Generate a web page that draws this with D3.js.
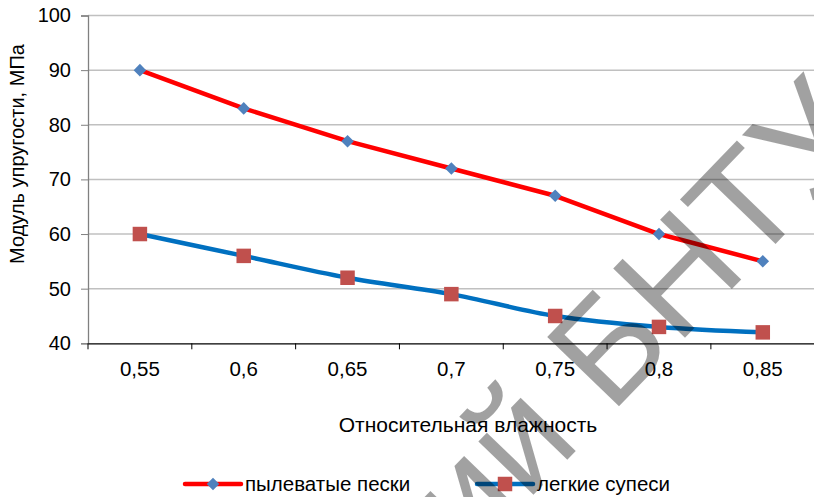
<!DOCTYPE html>
<html>
<head>
<meta charset="utf-8">
<script src="https://cdn.jsdelivr.net/npm/d3@7"></script>
<style>
  html, body { margin: 0; padding: 0; background: #fff; }
  svg { display: block; font-family: Arial, "Liberation Sans", sans-serif; }
</style>
</head>
<body>
<svg id="chart" width="814" height="497"></svg>
<script>
// Relative humidity categories (x axis)
const categories = ["0,55", "0,6", "0,65", "0,7", "0,75", "0,8", "0,85"];
// Modulus of elasticity, MPa
const siltySands = [90, 83, 77, 72, 67, 60, 55];   // пылеватые пески
const lightLoams = [60, 56, 52, 49, 45, 43, 42];   // легкие супеси
const yTicks = [40, 50, 60, 70, 80, 90, 100];

const seriesNames = ["пылеватые пески", "легкие супеси"];

const W = 814, H = 497;
const plot = { left: 88, right: 814.7, top: 15.5, bottom: 343.3 };
const FONT = "Arial, Liberation Sans, sans-serif";

const svg = d3.select("#chart");

const x = d3.scaleBand().domain(categories).range([plot.left, plot.right]).padding(0);
const y = d3.scaleLinear().domain([40, 100]).range([plot.bottom, plot.top]);
const cx = c => x(c) + x.bandwidth() / 2;

// horizontal gridlines
svg.append("g")
  .selectAll("line")
  .data(yTicks.filter(v => v > 40))
  .join("line")
  .attr("x1", plot.left).attr("x2", W)
  .attr("y1", d => y(d)).attr("y2", d => y(d))
  .attr("stroke", "#c0c0c0").attr("stroke-width", 1.5);

// y axis
const yAxis = svg.append("g")
  .attr("transform", `translate(${plot.left},0)`)
  .call(d3.axisLeft(y).tickValues(yTicks).tickSize(7).tickPadding(10).tickFormat(d3.format("d")));
yAxis.select(".domain").attr("stroke", "#808080").attr("stroke-width", 1.3);
yAxis.selectAll(".tick line").attr("stroke", "#808080");
yAxis.selectAll("text").attr("font-size", 20).attr("fill", "#000").attr("font-family", FONT);

// x axis with ticks at category boundaries
const xAxis = svg.append("g")
  .attr("transform", `translate(0,${plot.bottom})`)
  .call(d3.axisBottom(x).tickSize(0).tickPadding(18));
xAxis.select(".domain").attr("stroke", "#000").attr("stroke-width", 1.2);
xAxis.selectAll("text").attr("font-size", 20.5).attr("fill", "#000").attr("font-family", FONT);
xAxis.selectAll("line.boundary")
  .data(categories)
  .join("line")
  .attr("class", "boundary")
  .attr("x1", d => x(d)).attr("x2", d => x(d))
  .attr("y1", 0).attr("y2", 6)
  .attr("stroke", "#000").attr("stroke-width", 1);

// series lines
const lineStraight = d3.line().x((d, i) => cx(categories[i])).y(d => y(d));
const lineSmooth = d3.line().x((d, i) => cx(categories[i])).y(d => y(d)).curve(d3.curveCatmullRom.alpha(0.5));

svg.append("path").datum(siltySands)
  .attr("d", lineStraight).attr("fill", "none")
  .attr("stroke", "#ff0000").attr("stroke-width", 4.5).attr("stroke-linejoin", "round");
svg.append("path").datum(lightLoams)
  .attr("d", lineSmooth).attr("fill", "none")
  .attr("stroke", "#0070c0").attr("stroke-width", 4.5).attr("stroke-linejoin", "round");

const diamond = d3.symbol().type(d3.symbolDiamond2).size(100);
const square = d3.symbol().type(d3.symbolSquare).size(210);

svg.append("g").selectAll("path")
  .data(siltySands).join("path")
  .attr("d", diamond)
  .attr("transform", (d, i) => `translate(${cx(categories[i])},${y(d)})`)
  .attr("fill", "#4f81bd");
svg.append("g").selectAll("path")
  .data(lightLoams).join("path")
  .attr("d", square)
  .attr("transform", (d, i) => `translate(${cx(categories[i])},${y(d)})`)
  .attr("fill", "#c0504d");

// axis titles
svg.append("text")
  .attr("transform", `translate(24,154) rotate(-90)`)
  .attr("text-anchor", "middle").attr("font-size", 20).attr("fill", "#000")
  .text("Модуль упругости, МПа");
svg.append("text")
  .attr("x", 468).attr("y", 432)
  .attr("text-anchor", "middle").attr("font-size", 21).attr("fill", "#000")
  .text("Относительная влажность");

// legend
const legend = [
  { name: seriesNames[0], color: "#ff0000", marker: diamond, mfill: "#4f81bd", x0: 185 },
  { name: seriesNames[1], color: "#0070c0", marker: square, mfill: "#c0504d", x0: 477 }
];
const lg = svg.append("g").selectAll("g").data(legend).join("g")
  .attr("transform", d => `translate(${d.x0},484)`);
lg.append("line").attr("x1", 0).attr("x2", 56).attr("y1", 0).attr("y2", 0)
  .attr("stroke", d => d.color).attr("stroke-width", 4.5).attr("stroke-linecap", "round");
lg.append("path").attr("d", d => d.marker())
  .attr("transform", "translate(28,0)")
  .attr("fill", d => d.mfill);
lg.append("text").attr("x", 60).attr("y", 0).attr("dy", "0.35em")
  .attr("font-size", 20.5).attr("fill", "#000").text(d => d.name);

// repository watermark
svg.append("text")
  .attr("transform", "translate(875,141) rotate(-46)")
  .attr("text-anchor", "end")
  .attr("font-size", 145)
  .attr("fill", "#000").attr("fill-opacity", 0.37)
  .text("Репозиторий БНТУ");
</script>
</body>
</html>
